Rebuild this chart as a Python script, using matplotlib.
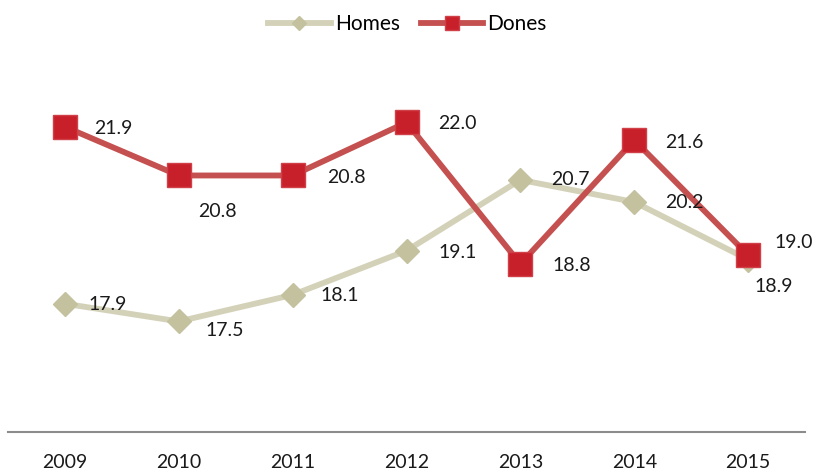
import matplotlib.pyplot as plt

years = ['2009', '2010', '2011', '2012', '2013', '2014', '2015']
homes = [17.9, 17.5, 18.1, 19.1, 20.7, 20.2, 18.9]
dones = [21.9, 20.8, 20.8, 22.0, 18.8, 21.6, 19.0]

# label offsets in pixels (dx right, dy up)
homes_off = [(24, -1), (27, -9), (28, -1), (32, -2), (31, 0), (31, 0), (6, -27)]
dones_off = [(29, -2), (19, -36), (34, -2), (32, -1), (32, -2), (31, -2), (26, 13)]

plt.rcParams['font.family'] = ['Lato', 'DejaVu Sans']

fig = plt.figure(figsize=(8.15, 4.73), dpi=100)
ax = fig.add_axes([0.0098, 0.0867, 0.978, 0.748])

x = list(range(len(years)))
ax.plot(x, homes, color='#d4d1b9', lw=4.2, marker='D', ms=12,
        mfc='#c4c19f', mec='#c4c19f', label='Homes', zorder=2)
ax.plot(x, dones, color='#c55050', lw=4.2, marker='s', ms=17,
        mfc='#c8202a', mec='#d04048', mew=1, label='Dones', zorder=3)

for xi, v, (dx, dy) in zip(x, homes, homes_off):
    ax.annotate(f'{v:.1f}', (xi, v), xytext=(dx, dy), textcoords='offset pixels',
                ha='left', va='center', fontsize=14, color='#1a1a1a')
for xi, v, (dx, dy) in zip(x, dones, dones_off):
    ax.annotate(f'{v:.1f}', (xi, v), xytext=(dx, dy), textcoords='offset pixels',
                ha='left', va='center', fontsize=14, color='#1a1a1a')

ax.set_xlim(-0.5, 6.5)
ax.set_ylim(15, 23)
ax.set_xticks(x)
ax.set_xticklabels(years, fontsize=14, color='#1a1a1a')
ax.tick_params(axis='x', length=0, pad=16)
ax.set_yticks([])
for s in ['top', 'right', 'left']:
    ax.spines[s].set_visible(False)
ax.spines['bottom'].set_color('#8c8c8c')
ax.spines['bottom'].set_linewidth(1.5)

fig.legend(loc='upper center', bbox_to_anchor=(0.5, 1.01), ncol=2, frameon=False,
           fontsize=15, handlelength=3.0, markerscale=0.6, columnspacing=1.0,
           handletextpad=0.2)

fig.savefig('out.png', dpi=100)
